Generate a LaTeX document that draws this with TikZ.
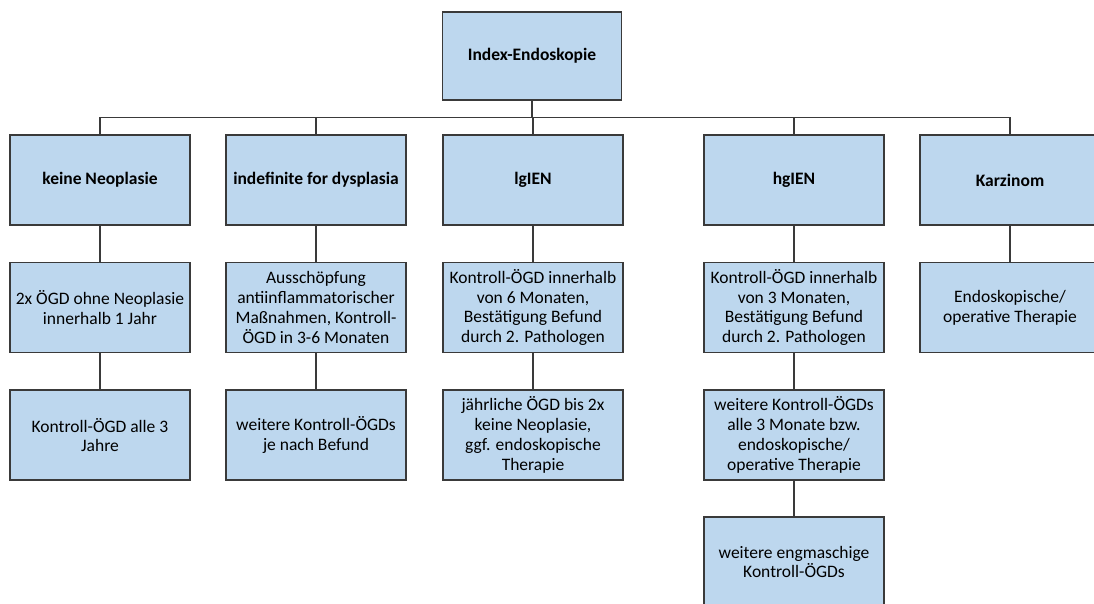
\documentclass[tikz,border=0pt]{standalone}
\usepackage{fontspec}
\setmainfont{Carlito}
\definecolor{boxblue}{HTML}{BDD7EE}
\definecolor{linegray}{HTML}{3A3A3A}

\begin{document}
\begin{tikzpicture}[x=1pt,y=-1pt,
        box/.style={draw=linegray,line width=1.2pt,fill=boxblue,minimum width=180pt,
            minimum height=90pt,inner sep=0pt,align=center,font=\fontsize{17.5}{19.8}\selectfont},
        head/.style={box,font=\fontsize{17.5}{19.8}\selectfont\bfseries},
        conn/.style={draw=linegray,line width=1.2pt}]
        \clip (0,0) rectangle (1094,603);
        % Befund der Index-Endoskopie
        \node[head,minimum width=179pt,minimum height=88pt] (idx) at (532,56) {Index-Endoskopie};
        \node[head] (keine) at (100,180) {keine Neoplasie};
        \node[head] (indef) at (316,180) {indefinite for dysplasia};
        \node[head] (lg)    at (533,180) {lgIEN};
        \node[head] (hg)    at (794,180) {hgIEN};
        \node[head] (karz)  at (1010,180) {Karzinom};
        % zweite Ebene
        \node[box] (keine2) at (100,307.5) {2x ÖGD ohne Neoplasie\\innerhalb 1 Jahr};
        \node[box] (indef2) at (316,307.5) {Ausschöpfung\\antiinflammatorischer\\Maßnahmen, Kontroll-\\ÖGD in 3-6 Monaten};
        \node[box] (lg2)    at (533,307.5) {Kontroll-ÖGD innerhalb\\von 6 Monaten,\\Bestätigung Befund\\durch 2. Pathologen};
        \node[box] (hg2)    at (794,307.5) {Kontroll-ÖGD innerhalb\\von 3 Monaten,\\Bestätigung Befund\\durch 2. Pathologen};
        \node[box] (karz2)  at (1010,307.5) {Endoskopische/\\operative Therapie};
        % dritte Ebene
        \node[box] (keine3) at (100,435) {Kontroll-ÖGD alle 3\\Jahre};
        \node[box] (indef3) at (316,435) {weitere Kontroll-ÖGDs\\je nach Befund};
        \node[box] (lg3)    at (533,435) {jährliche ÖGD bis 2x\\keine Neoplasie,\\ggf. endoskopische\\Therapie};
        \node[box] (hg3)    at (794,435) {weitere Kontroll-ÖGDs\\alle 3 Monate bzw.\\endoskopische/\\operative Therapie};
        \node[box] (hg4)    at (794,562) {weitere engmaschige\\Kontroll-ÖGDs};
        % Verbindungen
        \foreach \n in {keine,indef,lg,hg,karz}
            \draw[conn] (idx.south) -- ++(0,17) -| (\n.north);
        \draw[conn] (keine) -- (keine2) -- (keine3);
        \draw[conn] (indef) -- (indef2) -- (indef3);
        \draw[conn] (lg) -- (lg2) -- (lg3);
        \draw[conn] (hg) -- (hg2) -- (hg3) -- (hg4);
        \draw[conn] (karz) -- (karz2);
\end{tikzpicture}
\end{document}
